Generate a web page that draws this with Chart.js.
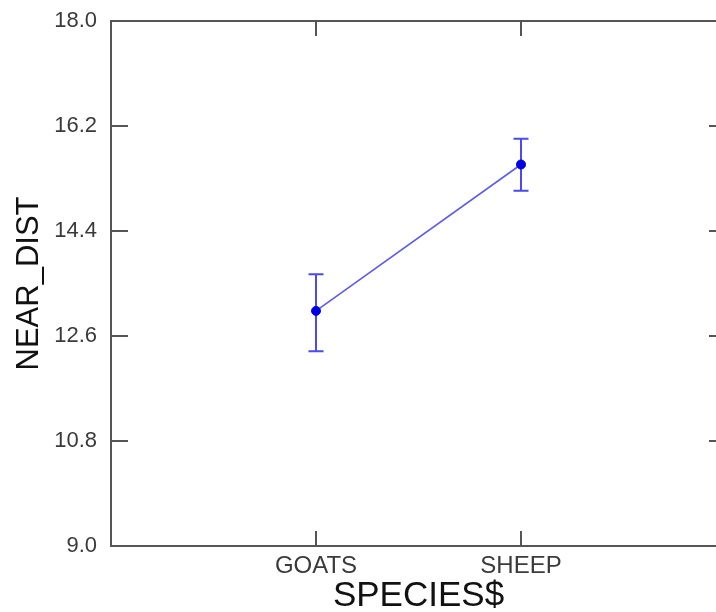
<!DOCTYPE html>
<html><head><meta charset="utf-8">
<script src="https://cdn.jsdelivr.net/npm/chart.js@4/dist/chart.umd.min.js"></script>
<style>html,body{margin:0;padding:0;overflow:hidden;background:#fff}#wrap{width:740px;height:612px;position:relative}</style>
</head><body><div id="wrap"><canvas id="c"></canvas></div>
<script>
const categories = ['GOATS', 'SHEEP'];
const xPositions = [1, 2];
const means = [13.03, 15.54];
const lower = [12.34, 15.09];
const upper = [13.66, 15.98];
const yTicks = [9.0, 10.8, 12.6, 14.4, 16.2, 18.0];
const xTitle = 'SPECIES$';
const yTitle = 'NEAR_DIST';

const FONT = '"Liberation Sans", Arial, sans-serif';

const errorBars = {
  id: 'errorBars',
  beforeDatasetsDraw(chart) {
    const {ctx, scales: {x, y}} = chart;
    ctx.save();
    ctx.strokeStyle = '#4a4af0';
    ctx.lineWidth = 2;
    for (let i = 0; i < means.length; i++) {
      const px = x.getPixelForValue(xPositions[i]);
      const yl = y.getPixelForValue(lower[i]);
      const yu = y.getPixelForValue(upper[i]);
      ctx.beginPath();
      ctx.moveTo(px, yl); ctx.lineTo(px, yu);
      ctx.moveTo(px - 7.5, yl); ctx.lineTo(px + 7.5, yl);
      ctx.moveTo(px - 7.5, yu); ctx.lineTo(px + 7.5, yu);
      ctx.stroke();
    }
    ctx.restore();
  }
};

const frame = {
  id: 'frame',
  afterDraw(chart) {
    const {ctx, chartArea: a, scales: {x, y}} = chart;
    ctx.save();
    ctx.strokeStyle = '#555';
    ctx.lineWidth = 2;
    ctx.strokeRect(a.left, a.top, a.right - a.left, a.bottom - a.top);
    ctx.beginPath();
    x.ticks.forEach(t => {
      const px = x.getPixelForValue(t.value);
      ctx.moveTo(px, a.top); ctx.lineTo(px, a.top + 15);
      ctx.moveTo(px, a.bottom); ctx.lineTo(px, a.bottom - 15);
    });
    y.ticks.forEach(t => {
      const py = y.getPixelForValue(t.value);
      ctx.moveTo(a.left, py); ctx.lineTo(a.left + 17, py);
      ctx.moveTo(a.right, py); ctx.lineTo(a.right - 17, py);
    });
    ctx.stroke();
    ctx.restore();
  }
};

new Chart(document.getElementById('c'), {
  type: 'line',
  data: {
    datasets: [{
      data: xPositions.map((xv, i) => ({x: xv, y: means[i]})),
      borderColor: '#5c5cf2',
      borderWidth: 1.6,
      pointBackgroundColor: '#0000e6',
      pointBorderColor: '#0000e6',
      pointRadius: 4.5,
      pointBorderWidth: 1,
      tension: 0
    }]
  },
  options: {
    responsive: true,
    maintainAspectRatio: false,
    animation: false,
    layout: {padding: {left: 0, right: 14, top: 21, bottom: 0}},
    plugins: {legend: {display: false}, tooltip: {enabled: false}},
    scales: {
      x: {
        type: 'linear',
        min: 0, max: 3,
        afterBuildTicks: s => { s.ticks = xPositions.map(v => ({value: v})); },
        afterFit: s => { s.height = 66; s.paddingLeft = 0; s.paddingRight = 0; s.paddingTop = 0; s.paddingBottom = 0; },
        grid: {display: false, drawTicks: false},
        border: {display: false},
        ticks: {
          padding: 6,
          color: '#3a3a3a',
          font: {family: FONT, size: 24},
          maxRotation: 0,
          callback: v => categories[xPositions.indexOf(v)] || ''
        },
        title: {
          display: true, text: xTitle, color: '#111',
          font: {family: FONT, size: 35, lineHeight: 1},
          padding: {top: 0, bottom: -2}
        }
      },
      y: {
        type: 'linear',
        min: 9, max: 18,
        afterBuildTicks: s => { s.ticks = yTicks.map(v => ({value: v})); },
        afterFit: s => { s.width = 111; s.paddingTop = 0; s.paddingBottom = 0; s.paddingLeft = 0; s.paddingRight = 0; },
        grid: {display: false, drawTicks: false},
        border: {display: false},
        ticks: {
          padding: 14,
          color: '#3a3a3a',
          font: {family: FONT, size: 22},
          callback: v => Number(v).toFixed(1)
        },
        title: {
          display: true, text: yTitle, color: '#111',
          font: {family: FONT, size: 31, lineHeight: 1.2},
          padding: {top: 11, bottom: 0}
        }
      }
    }
  },
  plugins: [errorBars, frame]
});
</script>
</body></html>
